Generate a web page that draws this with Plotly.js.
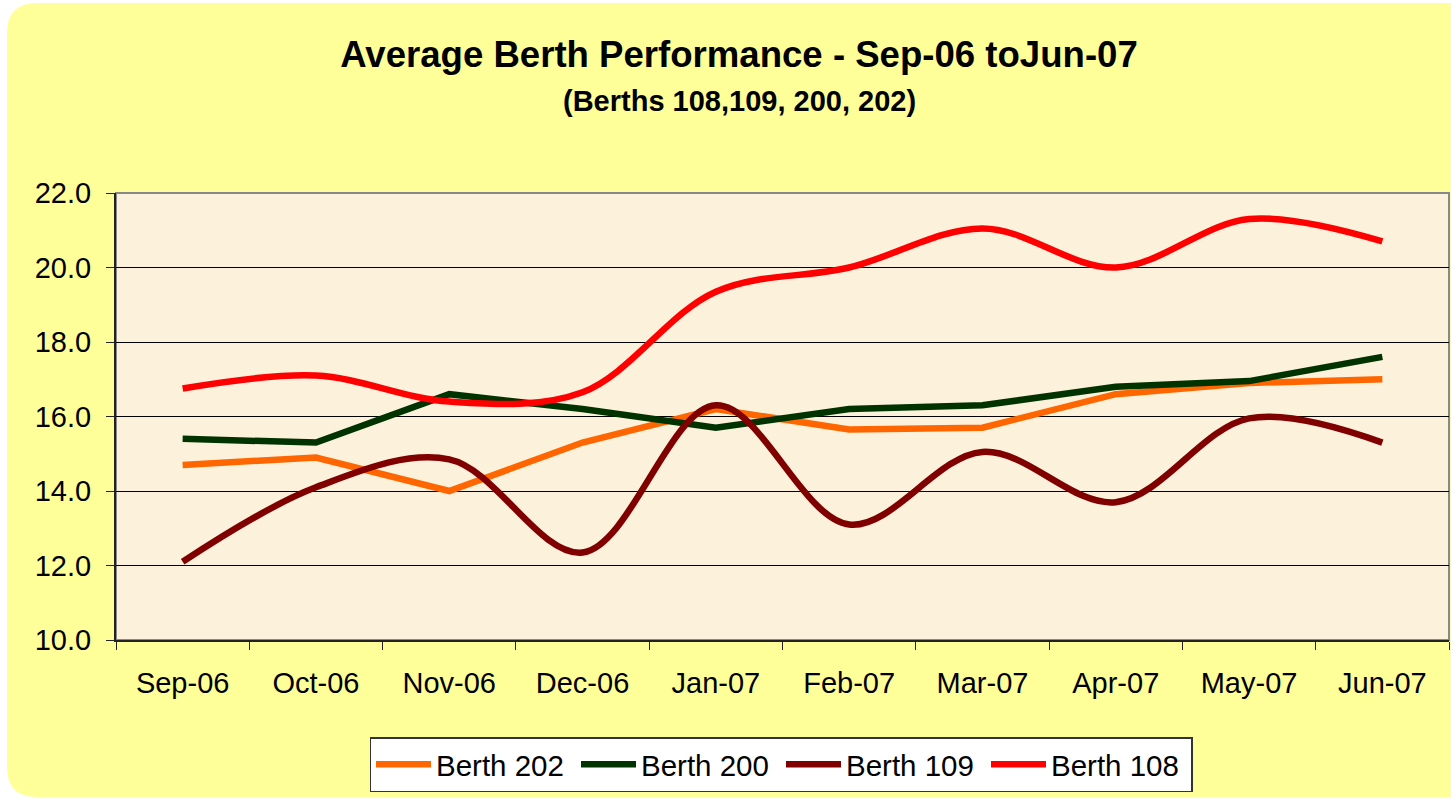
<!DOCTYPE html>
<html>
<head>
<meta charset="utf-8">
<script src="https://cdn.plot.ly/plotly-3.0.1.min.js"></script>
<style>html,body{margin:0;padding:0;background:#fff;}#chart{width:1451px;height:799px;}</style>
</head>
<body>
<div id="chart"></div>
<script>
// ---- data ----
const months = ['Sep-06','Oct-06','Nov-06','Dec-06','Jan-07','Feb-07','Mar-07','Apr-07','May-07','Jun-07'];
const berth202 = [14.7, 14.9, 14.0, 15.3, 16.2, 15.65, 15.7, 16.6, 16.9, 17.0];
const berth200 = [15.4, 15.3, 16.6, 16.2, 15.7, 16.2, 16.3, 16.8, 16.95, 17.6];
const berth109 = [12.1, 14.1, 14.85, 12.35, 16.3, 13.1, 15.05, 13.7, 15.95, 15.3];
const berth108 = [16.75, 17.1, 16.4, 16.65, 19.35, 20.0, 21.05, 20.0, 21.3, 20.7];
const yTicks = [10, 12, 14, 16, 18, 20, 22];

// ---- layout geometry ----
const W = 1451, H = 799;
const M = {l: 116, r: 2, t: 193, b: 159};
const PW = W - M.l - M.r, PH = H - M.t - M.b;
const px = v => (v - M.l) / PW;
const py = v => (H - M.b - v) / PH;

function roundRect(x0, y0, x1, y1, r) {
  const X = px, Y = py;
  return 'M' + X(x0 + r) + ',' + Y(y0) +
    ' L' + X(x1 - r) + ',' + Y(y0) +
    ' Q' + X(x1) + ',' + Y(y0) + ' ' + X(x1) + ',' + Y(y0 + r) +
    ' L' + X(x1) + ',' + Y(y1 - r) +
    ' Q' + X(x1) + ',' + Y(y1) + ' ' + X(x1 - r) + ',' + Y(y1) +
    ' L' + X(x0 + r) + ',' + Y(y1) +
    ' Q' + X(x0) + ',' + Y(y1) + ' ' + X(x0) + ',' + Y(y1 - r) +
    ' L' + X(x0) + ',' + Y(y0 + r) +
    ' Q' + X(x0) + ',' + Y(y0) + ' ' + X(x0 + r) + ',' + Y(y0) + ' Z';
}

const FONT = 'Liberation Sans, Arial, sans-serif';

const mk = (name, y, color, shape) => ({
  type: 'scatter', mode: 'lines', name: name, x: months, y: y,
  line: {color: color, width: 6.5, shape: shape, smoothing: 1},
  hoverinfo: 'x+y+name'
});

const traces = [
  mk('Berth 202', berth202, '#FF6600', 'linear'),
  mk('Berth 200', berth200, '#003300', 'linear'),
  mk('Berth 109', berth109, '#800000', 'spline'),
  mk('Berth 108', berth108, '#FF0000', 'spline')
];

const layout = {
  width: W, height: H,
  margin: M,
  paper_bgcolor: '#FFFFFF',
  plot_bgcolor: 'rgba(0,0,0,0)',
  font: {family: FONT, size: 29, color: '#000'},
  title: {
    text: 'Average Berth Performance - Sep-06 toJun-07',
    font: {family: FONT, size: 36.6, weight: 'bold', color: '#000'},
    x: 739 / W, xanchor: 'center', xref: 'container',
    y: 1 - 54 / H, yanchor: 'middle', yref: 'container'
  },
  annotations: [{
    text: '(Berths 108,109, 200, 202)',
    font: {family: FONT, size: 29, weight: 'bold', color: '#000'},
    showarrow: false, xref: 'paper', yref: 'paper',
    x: px(739), y: py(101), xanchor: 'center', yanchor: 'middle'
  }],
  showlegend: true,
  legend: {
    orientation: 'h', x: px(781), xanchor: 'center', y: py(737), yanchor: 'top',
    bgcolor: '#FFFFFF', bordercolor: '#333333', borderwidth: 1.5,
    font: {family: FONT, size: 29.5, color: '#000'},
    traceorder: 'normal', entrywidth: 135, entrywidthmode: 'pixels',
    itemwidth: 55, tracegroupgap: 0
  },
  xaxis: {
    type: 'category', range: [-0.5, months.length - 0.5],
    showgrid: false, zeroline: false,
    showline: true, linecolor: '#222', linewidth: 2,
    ticks: 'outside', tickson: 'boundaries', ticklen: 8, tickcolor: '#222', tickwidth: 1,
    tickfont: {family: FONT, size: 29, color: '#000'},
    ticklabelstandoff: 16,
    fixedrange: true
  },
  yaxis: {
    range: [10, 22], tickvals: yTicks, ticktext: yTicks.map(v => v.toFixed(1)),
    showgrid: true, gridcolor: '#000', gridwidth: 1, zeroline: false,
    showline: true, linecolor: '#222', linewidth: 2,
    ticks: 'outside', ticklen: 8, tickcolor: '#222', tickwidth: 1,
    tickfont: {family: FONT, size: 29, color: '#000'},
    ticklabelstandoff: 9,
    fixedrange: true
  },
  shapes: [
    {type: 'path', xref: 'paper', yref: 'paper', layer: 'below',
     path: roundRect(7, 3, 1480, 797, 30), fillcolor: '#FFFF99', line: {width: 0}},
    {type: 'rect', xref: 'paper', yref: 'paper', layer: 'below',
     x0: 0, x1: 1, y0: 0, y1: 1, fillcolor: '#FCF2DC', line: {color: '#888', width: 2}}
  ]
};

Plotly.newPlot('chart', traces, layout, {displayModeBar: false, staticPlot: true});
</script>
</body>
</html>
